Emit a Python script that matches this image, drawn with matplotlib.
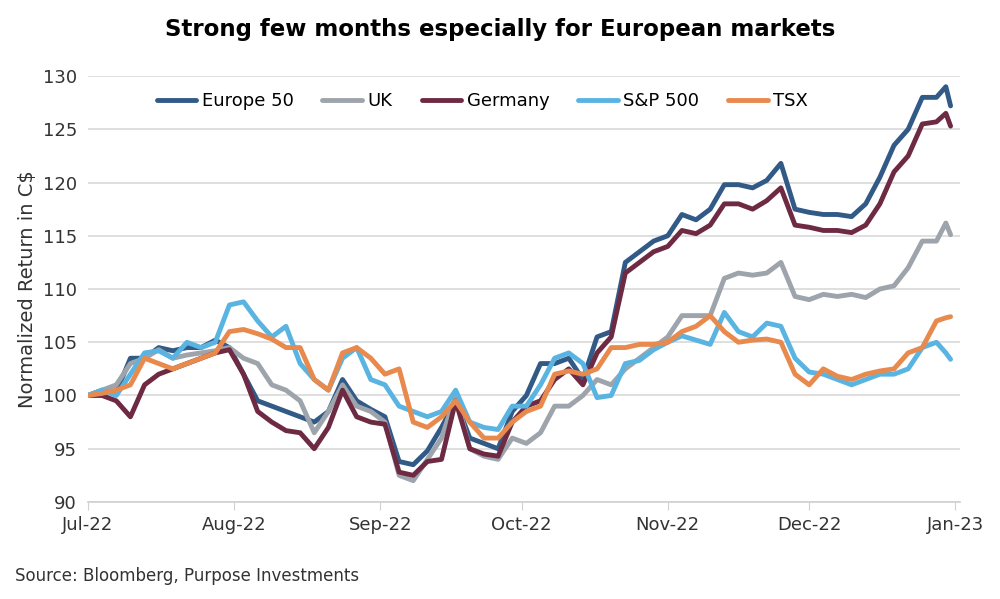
import matplotlib
matplotlib.use("Agg")
import matplotlib.pyplot as plt
import matplotlib.dates as mdates
import numpy as np
import datetime as dt

days = [0,3,6,9,12,15,18,21,24,27,30,33,36,39,42,45,48,51,54,57,60,63,66,69,72,75,78,81,84,87,90,93,96,99,102,105,108,111,114,117,120,123,126,129,132,135,138,141,144,147,150,153,156,159,162,165,168,171,174,177,180,182,183]
europe = [100,100.5,100.3,103.5,103.5,104.5,104.2,104.5,104.5,105.2,104.5,102,99.5,99,98.5,98,97.5,98.5,101.5,99.5,98.7,98,93.8,93.5,94.8,97,99.5,96,95.5,95,98.5,100,103,103,103.5,101.5,105.5,106,112.5,113.5,114.5,115,117,116.5,117.5,119.8,119.8,119.5,120.2,121.8,117.5,117.2,117,117,116.8,118,120.5,123.5,125,128,128,129,127.2]
uk = [100,100.5,101,103,103.5,104.3,103.5,103.8,104,104.2,104.5,103.5,103,101,100.5,99.5,96.5,98.5,101,99,98.5,97.5,92.5,92,94,96,100,95,94.3,94,96,95.5,96.5,99,99,100,101.5,101,102.5,103.5,104.5,105.5,107.5,107.5,107.5,111,111.5,111.3,111.5,112.5,109.3,109,109.5,109.3,109.5,109.2,110,110.3,112,114.5,114.5,116.2,115.1]
germany = [100,100,99.5,98,101,102,102.5,103,103.5,104,104.3,102,98.5,97.5,96.7,96.5,95,97,100.5,98,97.5,97.3,92.8,92.5,93.8,94,99.5,95,94.5,94.3,97.5,99,99.5,101.5,102.5,101,104,105.5,111.5,112.5,113.5,114,115.5,115.2,116,118,118,117.5,118.3,119.5,116,115.8,115.5,115.5,115.3,116,118,121,122.5,125.5,125.7,126.5,125.3]
sp500 = [100,100.5,100,102,104,104.2,103.5,105,104.5,105,108.5,108.8,107,105.5,106.5,103,101.5,100.5,103.5,104.5,101.5,101,99,98.5,98,98.5,100.5,97.5,97,96.8,99,99,101,103.5,104,103,99.8,100,103,103.3,104.3,105,105.6,105.2,104.8,107.8,106,105.5,106.8,106.5,103.5,102.2,102,101.5,101,101.5,102,102,102.5,104.5,105,104,103.4]
tsx = [100,100.2,100.5,101,103.5,103,102.5,103,103.5,104,106,106.2,105.8,105.3,104.5,104.5,101.5,100.5,104,104.5,103.5,102,102.5,97.5,97,98,99.5,97.5,96,96,97.5,98.5,99,102,102.3,102,102.5,104.5,104.5,104.8,104.8,105,106,106.5,107.5,106,105,105.2,105.3,105,102,101,102.5,101.8,101.5,102,102.3,102.5,104,104.5,107,107.3,107.4]

names = ["Europe 50", "UK", "Germany", "S&P 500", "TSX"]
colors = ["#325a87", "#9ea4ab", "#6e2a43", "#5ab4e2", "#e8894d"]
tick_labels = ["Jul-22","Aug-22","Sep-22","Oct-22","Nov-22","Dec-22","Jan-23"]

start = dt.date(2022,7,1)
dates = [start + dt.timedelta(days=d) for d in days]

fig = plt.figure(figsize=(10,5.99), dpi=100)
ax = fig.add_axes([0.088,0.162,0.872,0.711])
for s, n, c in zip([europe, uk, germany, sp500, tsx], names, colors):
    ax.plot(dates, s, color=c, lw=3.5, label=n, solid_capstyle='round')
ax.set_ylim(90,130)
ax.set_yticks(range(90,131,5))
ax.set_xlim(dt.date(2022,7,1), dt.date(2023,1,2))
ticks = [dt.date(2022,m,1) for m in range(7,13)] + [dt.date(2023,1,1)]
ax.set_xticks(ticks)
ax.set_xticklabels(tick_labels)
ax.grid(axis='y', color='#d9d9d9', lw=1.2)
ax.set_axisbelow(True)
for sp in ['top','right','left']:
    ax.spines[sp].set_visible(False)
ax.spines['bottom'].set_color('#d0d0d0')
ax.spines['bottom'].set_linewidth(1.2)
ax.tick_params(axis='y', length=0, labelsize=13, colors='#333333', pad=8)
ax.tick_params(axis='x', length=6, color='#d0d0d0', labelsize=13, colors='#333333', pad=4)
ax.set_ylabel("Normalized Return in C$", fontsize=14, color='#333333')
leg = ax.legend(loc='upper left', ncol=5, frameon=False, fontsize=13, bbox_to_anchor=(0.06,1.0),
                handlelength=2.2, columnspacing=1.6, handletextpad=0.3)
fig.text(0.5,0.95,"Strong few months especially for European markets", ha='center', va='center',
         fontsize=16.5, fontweight='bold', color='black')
fig.text(0.015,0.038,"Source: Bloomberg, Purpose Investments", fontsize=12, color='#333333', va='center')
fig.savefig("out.png", dpi=100)
